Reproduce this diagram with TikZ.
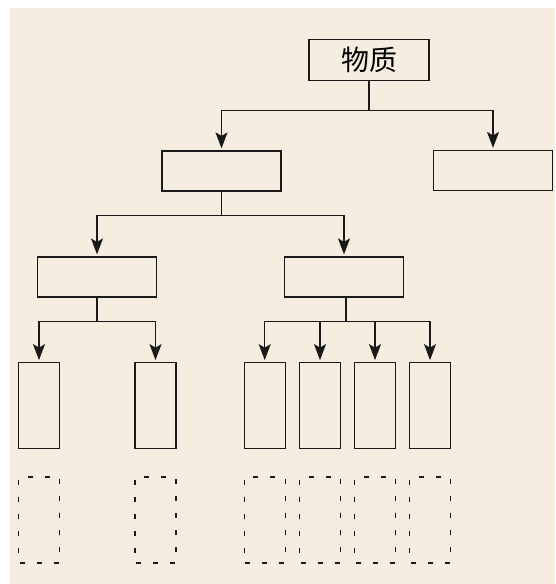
\documentclass[tikz,border=0pt]{standalone}
\usepackage{fontspec}
\newfontfamily\cjk{Noto Sans CJK SC}
\usetikzlibrary{arrows.meta}
\definecolor{paper}{HTML}{F5EEE0}
\definecolor{ink}{HTML}{1A1A1A}
\begin{document}
\begin{tikzpicture}[
        x=1pt,y=-1pt,
        every node/.style={
            draw=ink,rectangle,inner sep=0pt,line width=1.2pt,
            font=\cjk\fontsize{28}{32}\selectfont
        },
        catbox/.style={minimum width=119pt,minimum height=40pt},
        leafbox/.style={minimum width=41pt,minimum height=86pt},
        ghostbox/.style={leafbox,dash pattern=on 5pt off 12pt,dash phase=-1pt},
        link/.style={ink,line width=1.2pt},
        arr/.style={link,-{Stealth[length=16pt,width=12pt,inset=3.5pt]},shorten >=2pt}
    ]
% Sets
    \useasboundingbox (0,0) rectangle (555,584);
    \fill[paper] (10,8) rectangle (555,584);
% Boxes
    \node[catbox,minimum width=120pt,minimum height=41pt] (matter) at (369,60) {物质};
    \node[catbox] (left) at (221.5,171) {};
    \node[catbox] (right) at (493,170.5) {};
    \node[catbox] (leftA) at (97,277) {};
    \node[catbox] (leftB) at (344,277) {};
\foreach\i/\x in {1/39,2/155.5,3/264.7,4/320,5/375,6/430}{
    \node[leafbox] (leaf\i) at (\x,405.7) {};
    \node[ghostbox] (ghost\i) at (\x,520) {};
}
% Connectors
    \draw[link] (matter.south) -- ++(0,29) coordinate (j0);
    \draw[arr] (j0) -| (left.north);
    \draw[arr] (j0) -| (right.north);
    \draw[link] (left.south) -- ++(0,24) coordinate (j1);
    \draw[arr] (j1) -| (leftA.north);
    \draw[arr] (j1) -| (leftB.north);
    \draw[link] (leftA.south) -- ++(0,24) coordinate (j2);
\foreach\i in {1,2}{
    \draw[arr] (j2) -| (leaf\i.north);
}
    \draw[link] ([xshift=2pt]leftB.south) -- ++(0,24) coordinate (j3);
\foreach\i in {3,4,5,6}{
    \draw[arr] (j3) -| (leaf\i.north);
}
\end{tikzpicture}
\end{document}
